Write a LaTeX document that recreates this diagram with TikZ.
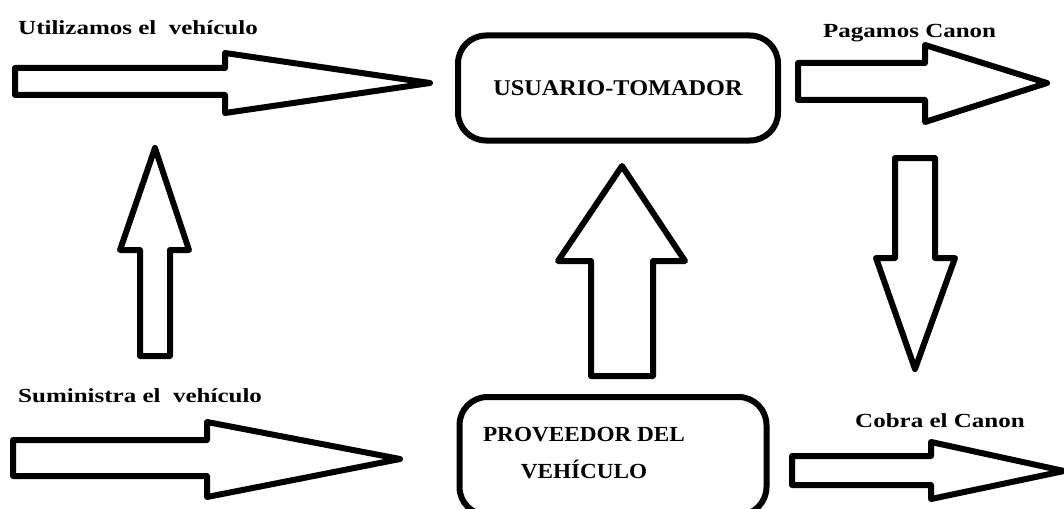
\documentclass[tikz,border=0pt]{standalone}
\usepackage{fontspec}
\setmainfont{Liberation Serif}
\newfontfamily\lblfont{Liberation Serif}[FakeStretch=1.25]
\newfontfamily\boxfont{Liberation Serif}[FakeStretch=1.08]
\usepackage{tikz}

\begin{document}
\begin{tikzpicture}[x=1pt, y=-1pt,
    box/.style={draw, rectangle, rounded corners=28pt, line width=6pt},
    lbl/.style={anchor=base west, inner sep=0pt, font=\lblfont\fontsize{20}{22}\selectfont\bfseries},
    blk/.style={draw, line width=6pt, line join=round}]
    \useasboundingbox (0,0) rectangle (1064,508);

    \node[box, minimum width=320pt, minimum height=105pt, font=\boxfont\fontsize{22.5}{24}\selectfont\bfseries] (user) at (618,88) {USUARIO-TOMADOR};
    \node[box, minimum width=307pt, minimum height=118pt] (provider) at (613,456) {};
    \node[align=center, inner sep=0pt, font=\boxfont\fontsize{21.5}{37}\selectfont\bfseries] (providertext) at (584,453) {PROVEEDOR DEL\\VEHÍCULO};

    \node[lbl] (uselbl) at (18,35) {Utilizamos el\ \ vehículo};
    \node[lbl] (paylbl) at (823,38) {Pagamos Canon};
    \node[lbl] (supplylbl) at (18,402) {Suministra el\ \ vehículo};
    \node[lbl] (chargelbl) at (855,427) {Cobra el Canon};

    \draw[blk] (15,68) -- (225,68) -- (225,53) -- (430,83) -- (225,113) -- (225,95) -- (15,95) -- cycle;
    \draw[blk] (798,63) -- (925,63) -- (925,45) -- (1047,83) -- (925,122) -- (925,100) -- (798,100) -- cycle;
    \draw[blk] (13,440) -- (207,440) -- (207,422) -- (400,459) -- (207,497) -- (207,476) -- (13,476) -- cycle;
    \draw[blk] (792,456) -- (931,456) -- (931,442) -- (1064,471) -- (931,499) -- (931,485) -- (792,485) -- cycle;

    \draw[blk] (140,356) -- (140,250) -- (120,250) -- (155,148) -- (189,250) -- (170,250) -- (170,356) -- cycle;
    \draw[blk] (591,376) -- (591,261) -- (558,261) -- (622,166) -- (685,261) -- (653,261) -- (653,376) -- cycle;
    \draw[blk] (895,158) -- (935,158) -- (935,258) -- (955,258) -- (915,369) -- (876,258) -- (895,258) -- cycle;
\end{tikzpicture}
\end{document}
